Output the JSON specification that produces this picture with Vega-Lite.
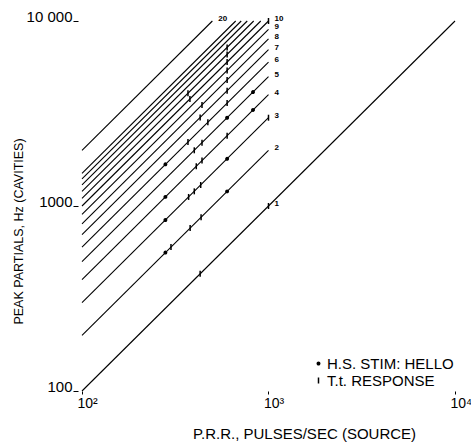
{
  "$schema": "https://vega.github.io/schema/vega-lite/v6.json",
  "width": 373,
  "height": 370,
  "autosize": {"type": "none"},
  "padding": {"left": 82, "top": 21, "right": 16, "bottom": 51},
  "background": "white",
  "config": {
    "view": {"stroke": null},
    "font": "Liberation Sans",
    "axis": {"grid": false, "domain": false, "tickColor": "black", "labelColor": "black", "titleColor": "black", "titleFontWeight": "normal", "labelFontSize": 15, "titleFontSize": 15}
  },
  "datasets": {
    "lines": [
      {"n": 1, "x": 100, "y": 100}, {"n": 1, "x": 10000, "y": 10000},
      {"n": 2, "x": 100, "y": 200}, {"n": 2, "x": 1000, "y": 2000},
      {"n": 3, "x": 100, "y": 300}, {"n": 3, "x": 1000, "y": 3000},
      {"n": 4, "x": 100, "y": 400}, {"n": 4, "x": 1000, "y": 4000},
      {"n": 5, "x": 100, "y": 500}, {"n": 5, "x": 1000, "y": 5000},
      {"n": 6, "x": 100, "y": 600}, {"n": 6, "x": 1000, "y": 6000},
      {"n": 7, "x": 100, "y": 700}, {"n": 7, "x": 1000, "y": 7000},
      {"n": 8, "x": 100, "y": 800}, {"n": 8, "x": 1000, "y": 8000},
      {"n": 9, "x": 100, "y": 900}, {"n": 9, "x": 1000, "y": 9000},
      {"n": 10, "x": 100, "y": 1000}, {"n": 10, "x": 1000, "y": 10000},
      {"n": 11, "x": 100, "y": 1100}, {"n": 11, "x": 909, "y": 10000},
      {"n": 12, "x": 100, "y": 1200}, {"n": 12, "x": 833, "y": 10000},
      {"n": 13, "x": 100, "y": 1300}, {"n": 13, "x": 769, "y": 10000},
      {"n": 14, "x": 100, "y": 1400}, {"n": 14, "x": 714, "y": 10000},
      {"n": 15, "x": 100, "y": 1500}, {"n": 15, "x": 667, "y": 10000},
      {"n": 20, "x": 100, "y": 2000}, {"n": 20, "x": 500, "y": 10000}
    ],
    "labels": [
      {"label": "20", "x": 500, "y": 10000},
      {"label": "10", "x": 1000, "y": 10000},
      {"label": "9", "x": 1000, "y": 9000},
      {"label": "8", "x": 1000, "y": 8000},
      {"label": "7", "x": 1000, "y": 7000},
      {"label": "6", "x": 1000, "y": 6000},
      {"label": "5", "x": 1000, "y": 5000},
      {"label": "4", "x": 1000, "y": 4000},
      {"label": "3", "x": 1000, "y": 3000},
      {"label": "2", "x": 1000, "y": 2000},
      {"label": "1", "x": 1000, "y": 1000}
    ],
    "obs": [
      {"kind": "H.S. STIM: HELLO", "x": 280, "y": 560},
      {"kind": "H.S. STIM: HELLO", "x": 280, "y": 840},
      {"kind": "H.S. STIM: HELLO", "x": 280, "y": 1120},
      {"kind": "H.S. STIM: HELLO", "x": 280, "y": 1680},
      {"kind": "H.S. STIM: HELLO", "x": 600, "y": 1200},
      {"kind": "H.S. STIM: HELLO", "x": 600, "y": 1800},
      {"kind": "H.S. STIM: HELLO", "x": 600, "y": 3000},
      {"kind": "H.S. STIM: HELLO", "x": 826, "y": 3304},
      {"kind": "H.S. STIM: HELLO", "x": 826, "y": 4130},
      {"kind": "T.t. RESPONSE", "x": 430, "y": 430},
      {"kind": "T.t. RESPONSE", "x": 1000, "y": 1000},
      {"kind": "T.t. RESPONSE", "x": 300, "y": 600},
      {"kind": "T.t. RESPONSE", "x": 380, "y": 760},
      {"kind": "T.t. RESPONSE", "x": 435, "y": 870},
      {"kind": "T.t. RESPONSE", "x": 373, "y": 1119},
      {"kind": "T.t. RESPONSE", "x": 400, "y": 1200},
      {"kind": "T.t. RESPONSE", "x": 433, "y": 1299},
      {"kind": "T.t. RESPONSE", "x": 1000, "y": 3000},
      {"kind": "T.t. RESPONSE", "x": 410, "y": 1640},
      {"kind": "T.t. RESPONSE", "x": 440, "y": 1760},
      {"kind": "T.t. RESPONSE", "x": 600, "y": 2400},
      {"kind": "T.t. RESPONSE", "x": 400, "y": 2000},
      {"kind": "T.t. RESPONSE", "x": 440, "y": 2200},
      {"kind": "T.t. RESPONSE", "x": 370, "y": 2220},
      {"kind": "T.t. RESPONSE", "x": 473, "y": 2838},
      {"kind": "T.t. RESPONSE", "x": 600, "y": 3600},
      {"kind": "T.t. RESPONSE", "x": 430, "y": 3010},
      {"kind": "T.t. RESPONSE", "x": 600, "y": 4200},
      {"kind": "T.t. RESPONSE", "x": 440, "y": 3520},
      {"kind": "T.t. RESPONSE", "x": 600, "y": 4800},
      {"kind": "T.t. RESPONSE", "x": 600, "y": 5400},
      {"kind": "T.t. RESPONSE", "x": 379, "y": 3790},
      {"kind": "T.t. RESPONSE", "x": 600, "y": 6000},
      {"kind": "T.t. RESPONSE", "x": 1000, "y": 10000},
      {"kind": "T.t. RESPONSE", "x": 370, "y": 4070},
      {"kind": "T.t. RESPONSE", "x": 600, "y": 6600},
      {"kind": "T.t. RESPONSE", "x": 600, "y": 7200}
    ]
  },
  "layer": [
    {
      "data": {"name": "lines"},
      "mark": {"type": "line", "color": "black", "strokeWidth": 1.1},
      "encoding": {
        "x": {"field": "x", "type": "quantitative", "scale": {"type": "log", "domain": [100, 10000]},
          "axis": {"values": [100, 1000, 10000], "labelExpr": "datum.value == 100 ? '10²' : datum.value == 1000 ? '10³' : '10⁴'", "labelFontSize": 14, "tickSize": 3, "labelPadding": 2, "labelAlign": "left", "labelOffset": -5, "title": "P.R.R., PULSES/SEC (SOURCE)", "titleX": 222, "titleY": 42, "titleAlign": "center", "titleBaseline": "middle"}},
        "y": {"field": "y", "type": "quantitative", "scale": {"type": "log", "domain": [100, 10000]},
          "axis": {"values": [100, 1000, 10000], "labelExpr": "datum.value == 10000 ? '10 000' : format(datum.value, 'd')", "tickSize": 5, "offset": 4, "labelPadding": 1, "labelBaseline": "alphabetic", "title": "PEAK PARTIALS, Hz (CAVITIES)", "titleFontSize": 12.5, "titleX": -60, "titleY": 210, "titleAlign": "center", "titleBaseline": "middle"}},
        "detail": {"field": "n", "type": "nominal"}
      }
    },
    {
      "data": {"name": "labels"},
      "mark": {"type": "text", "align": "left", "dx": 6, "dy": -2, "fontSize": 8, "fontWeight": "bold", "color": "black"},
      "encoding": {
        "x": {"field": "x", "type": "quantitative"},
        "y": {"field": "y", "type": "quantitative"},
        "text": {"field": "label"}
      }
    },
    {
      "data": {"name": "obs"},
      "mark": {"type": "point", "filled": true, "color": "black", "stroke": "black", "strokeWidth": 1.5, "opacity": 1},
      "encoding": {
        "x": {"field": "x", "type": "quantitative"},
        "y": {"field": "y", "type": "quantitative"},
        "shape": {"field": "kind", "type": "nominal",
          "scale": {"domain": ["H.S. STIM: HELLO", "T.t. RESPONSE"], "range": ["circle", "M0,-1L0,1"]},
          "legend": {"orient": "none", "legendX": 229, "legendY": 335, "title": null, "labelFontSize": 15, "labelColor": "black", "rowPadding": 1, "labelOffset": 1, "padding": 0,
            "encode": {"symbols": {"update": {"stroke": {"value": "black"}, "strokeWidth": {"value": 1.5}, "fill": {"value": "black"}, "opacity": {"value": 1}}}}}},
        "size": {"field": "kind", "type": "nominal",
          "scale": {"domain": ["H.S. STIM: HELLO", "T.t. RESPONSE"], "range": [6, 36]},
          "legend": {"orient": "none", "legendX": 229, "legendY": 335, "title": null, "labelFontSize": 15, "labelColor": "black", "rowPadding": 1, "labelOffset": 1, "padding": 0}}
      }
    }
  ]
}
